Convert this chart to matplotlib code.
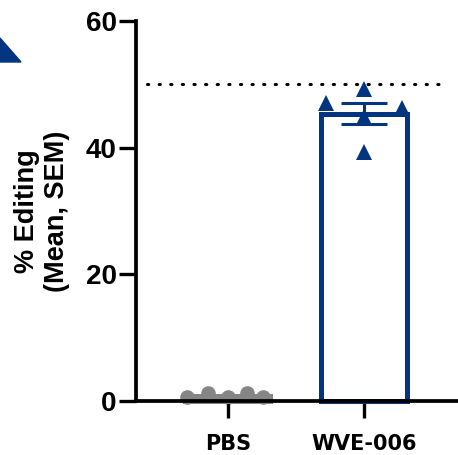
import numpy as np
import matplotlib
matplotlib.use("Agg")
import matplotlib.pyplot as plt
from matplotlib.patches import Polygon

# data
groups = ["PBS", "WVE-006"]
pbs_vals = [0.6, 1.2, 0.6, 1.2, 0.6]
wve_vals = [47.1, 49.2, 46.3, 44.8, 39.3]
ref_line = 50
yticks = [0, 20, 40, 60]

navy = "#023580"
grey = "#858585"

def sem(v):
    v = np.asarray(v)
    return v.std(ddof=1) / np.sqrt(len(v))

fig = plt.figure(figsize=(4.58, 4.55), dpi=100)
ax = fig.add_axes([136/458, 54/455, 322/458, 380/455])

x = np.arange(len(groups))
means = [np.mean(pbs_vals), np.mean(wve_vals)]
colors = [grey, navy]
bw = 0.625

for i in range(len(groups)):
    ax.bar(x[i], means[i], width=bw, facecolor="none", edgecolor=colors[i],
           linewidth=3.6, zorder=2, clip_on=False)

# error bar on WVE-006
ax.errorbar(x[1], means[1], yerr=sem(wve_vals), color=navy, capsize=16.5,
            capthick=2.2, elinewidth=2.2, zorder=3)
ax.hlines(means[1], x[1] - bw/2, x[1] + bw/2, color=navy, linewidth=3.6, zorder=3)

# points
pbs_x = x[0] + np.array([-0.30, -0.15, 0.0, 0.14, 0.26])
ax.plot(pbs_x, pbs_vals, "o", color=grey, markersize=9.5, zorder=1, clip_on=False)
wve_x = x[1] + np.array([-0.28, 0.0, 0.28, 0.0, 0.0])
ax.plot(wve_x, wve_vals, "^", color=navy, markersize=11.5, markeredgewidth=0,
        zorder=2.5, clip_on=False)

# dotted reference
ax.plot([-0.596, 1.603], [ref_line, ref_line], color="black", linewidth=2.2,
        linestyle=(0, (0.4, 3.4)), dash_capstyle="round", zorder=1)

ax.set_xlim(-0.676, 1.691)
ax.set_ylim(0, 60)
ax.set_yticks(yticks)
ax.set_xticks(x)
ax.set_xticklabels(groups)

for s in ["top", "right"]:
    ax.spines[s].set_visible(False)
for s in ["left", "bottom"]:
    ax.spines[s].set_linewidth(2.7)
ax.spines["bottom"].set_zorder(5)

ax.tick_params(axis="y", length=12, width=2.4, pad=2)
ax.tick_params(axis="x", length=12, width=2.4, pad=12)
for lab in ax.get_yticklabels():
    lab.set_fontfamily("Liberation Sans")
    lab.set_fontweight("bold")
    lab.set_fontsize(20)
for lab in ax.get_xticklabels():
    lab.set_fontfamily("DejaVu Sans")
    lab.set_fontweight("bold")
    lab.set_fontsize(15)

fig.text(42/458, 1 - 211/455, "% Editing\n(Mean, SEM)", rotation=90,
         ha="center", va="center", multialignment="center",
         fontfamily="Liberation Sans", fontweight="bold", fontsize=19.5,
         linespacing=1.15)

# cut-off triangle in the top-left corner
tri = Polygon([[0, 1 - 38/455], [21/458, 1 - 62/455], [0, 1 - 62/455]],
              closed=True, transform=fig.transFigure, color=navy)
fig.patches.append(tri)

fig.savefig("out.png", dpi=100)
